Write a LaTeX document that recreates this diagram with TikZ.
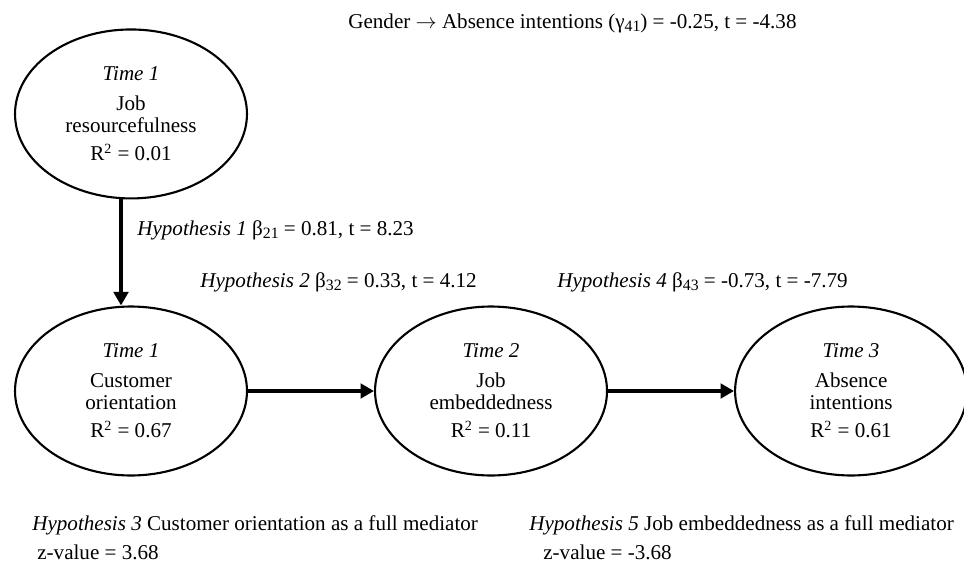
\documentclass[tikz,border=0pt]{standalone}
\usepackage{fontspec}
\setmainfont{Liberation Serif}
\usetikzlibrary{arrows.meta, positioning, shapes.geometric}
\newcommand\lowidx[1]{\raisebox{-0.4ex}{\fontsize{9}{9}\selectfont #1}}

\begin{document}
\begin{tikzpicture}[
    x=0.02cm, y=-0.02cm,
    every node/.style={font=\fontsize{12}{12.5}\selectfont, inner sep=0pt},
    construct/.style={ellipse, draw=black, line width=1.2pt, minimum width=4.64cm, minimum height=3.38cm, align=center},
    link/.style={-{Triangle[length=2.7mm, width=2.9mm]}, draw=black, line width=2.8pt},
    downlink/.style={link, line width=2.2pt},
    note/.style={anchor=base west, align=left}
]
\useasboundingbox (0,0) rectangle (964,565);

% Constructs
\node[construct] (CO) at (131,391) {%
\textit{Time 1}\\[4.5pt]
Customer\\
orientation\\[3.4pt]
R\textsuperscript{2} = 0.67};

\node[construct, above=2.12cm of CO] (JR) {%
\textit{Time 1}\\[4.5pt]
Job\\
resourcefulness\\[3.4pt]
R\textsuperscript{2} = 0.01};

\node[construct, right=2.52cm of CO] (JE) {%
\textit{Time 2}\\[4.5pt]
Job\\
embeddedness\\[3.4pt]
R\textsuperscript{2} = 0.11};

\node[construct, right=2.52cm of JE] (AI) {%
\textit{Time 3}\\[4.5pt]
Absence\\
intentions\\[3.4pt]
R\textsuperscript{2} = 0.61};

% Paths
\draw[downlink] ([xshift=-0.2cm]JR.south) -- ([xshift=-0.2cm]CO.north);
\draw[link] (CO.east) -- (JE.west);
\draw[link] (JE.east) -- (AI.west);

% Path coefficients
\node[note] (gender) at (348,28) {Gender \ensuremath{\rightarrow} Absence intentions (γ\lowidx{41}) = -0.25, t = -4.38};
\node[note] (hyp1) at (137,235) {\textit{Hypothesis 1} β\lowidx{21} = 0.81, t = 8.23};
\node[note] (hyp2) at (200,287) {\textit{Hypothesis 2} β\lowidx{32} = 0.33, t = 4.12};
\node[note] (hyp4) at (557,287) {\textit{Hypothesis 4} β\lowidx{43} = -0.73, t = -7.79};

% Mediation tests
\node[note] (hyp3) at (32,530) {\textit{Hypothesis 3} Customer orientation as a full mediator};
\node[note] (hyp3z) at (37,559) {z-value = 3.68};
\node[note] (hyp5) at (529,530) {\textit{Hypothesis 5} Job embeddedness as a full mediator};
\node[note] (hyp5z) at (543,559) {z-value = -3.68};

\end{tikzpicture}
\end{document}
